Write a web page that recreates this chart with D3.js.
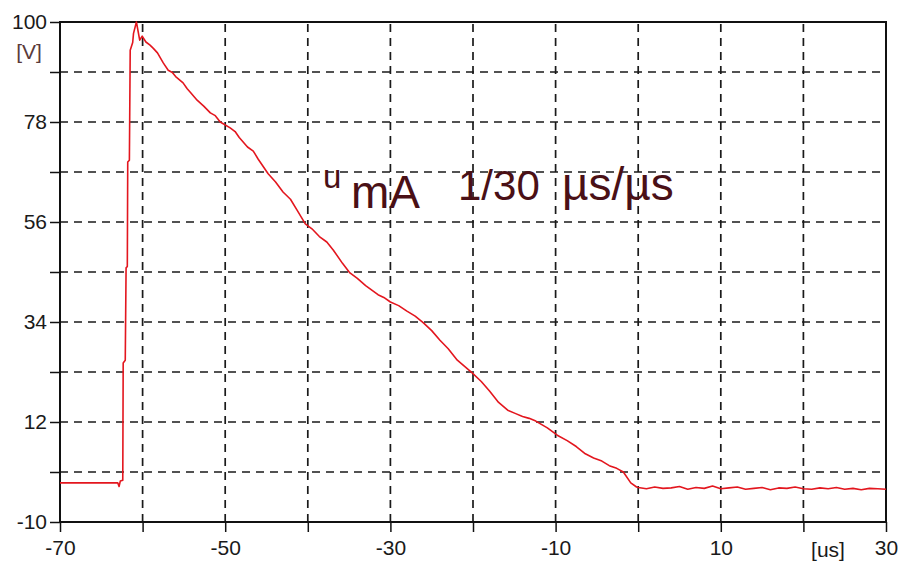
<!DOCTYPE html>
<html>
<head>
<meta charset="utf-8">
<script src="https://cdn.jsdelivr.net/npm/d3@7"></script>
<style>
  body { margin: 0; background: #fff; }
  svg { display: block; }
  text { font-family: "Liberation Sans", Arial, sans-serif; }
</style>
</head>
<body>
<svg id="svg0" width="902" height="572"></svg>
<script>

// tick values and labels
var xTicks = [-70, -60, -50, -40, -30, -20, -10, 0, 10, 20, 30];
var xLabels = [-70, -50, -30, -10, 10, 30];
var yTicks = [-10, 1, 12, 23, 34, 45, 56, 67, 78, 89, 100];
var yLabels = [-10, 12, 34, 56, 78, 100];

// recorded trace: time [us] and voltage [V]
var traceTime = [
  -70, -63.0, -62.85, -62.7, -62.4, -62.35, -62.1, -62.0, -61.85, -61.8,
  -61.6, -61.5, -61.2, -61.1, -60.75, -60.35, -60.05, -59.6, -59.1, -58.7,
  -58.2, -57.5, -56.9, -56.4, -56.0, -55.1, -54.6, -54.2, -53.4, -52.6,
  -51.8, -51.2, -50.6, -49.4, -48.8, -48.3, -47.3, -46.6, -46.0, -44.8,
  -43.9, -43.0, -42.1, -41.3, -40.3, -39.5, -38.6, -37.7, -36.9, -35.8,
  -34.9, -34.0, -33.0, -31.5, -30.8, -30.0, -29.0, -28.0, -27.0, -26.0,
  -25.0, -24.0, -23.0, -21.9, -20.1, -19.0, -18.0, -16.9, -15.8, -14.9,
  -14.0, -13.2, -12.4, -11.0, -9.8, -8.6, -7.5, -6.4, -5.4, -4.4,
  -3.5, -2.6, -1.8, -0.9, -0.2,
  0, 1, 2, 3, 4, 5, 6, 7, 8, 9, 10, 11, 12, 13, 14, 15,
  16, 17, 18, 19, 20, 21, 22, 23, 24, 25, 26, 27, 28, 29, 30
];
var traceVolt = [
  -1.4, -1.4, -2.2, -1.0, -0.8, 25.0, 25.6, 45.9, 46.2, 69.2,
  69.6, 93.8, 95.5, 97.5, 100, 96.0, 96.9, 95.6, 94.9, 94.2,
  93.2, 91.0, 89.4, 88.9, 88.0, 86.6, 85.3, 84.5, 82.8, 81.5,
  80.0, 79.4, 78.0, 76.7, 75.9, 74.6, 72.5, 71.6, 69.8, 66.6,
  64.8, 62.6, 61.0, 58.6, 55.6, 54.5, 52.8, 51.6, 49.8, 46.9,
  44.8, 43.6, 42.0, 40.0, 39.4, 38.4, 37.6, 36.4, 35.3, 33.8,
  32.1, 30.0, 28.1, 25.6, 22.8, 20.9, 18.8, 16.3, 14.6, 13.9,
  13.2, 12.8, 12.2, 10.7, 9.1, 7.9, 6.6, 5.0, 4.1, 3.4,
  2.4, 1.8, 1.0, -1.4, -2.3,
  -2.4, -2.7, -2.3, -2.6, -2.5, -2.2, -2.8, -2.4, -2.6, -2.1, -2.7, -2.5, -2.3, -2.8, -2.6, -2.4,
  -2.9, -2.5, -2.6, -2.3, -2.7, -2.8, -2.5, -2.7, -2.4, -2.8, -2.6, -2.9, -2.6, -2.7, -2.8
];

var svg = d3.select('#svg0');

var x = d3.scaleLinear().domain([-70, 30]).range([60, 886]);
var y = d3.scaleLinear().domain([-10, 100]).range([522, 22]);

svg.append('rect')
    .attr('width', 902)
    .attr('height', 572)
    .attr('fill', '#fff');

// dashed grid
var grid = svg.append('g')
    .attr('stroke', '#1a1a1a')
    .attr('stroke-width', 1.7)
    .attr('stroke-dasharray', '8,6');

grid.selectAll('.vg')
    .data(xTicks.slice(1, -1))
    .enter()
    .append('line')
    .attr('x1', function(d){ return x(d); })
    .attr('x2', function(d){ return x(d); })
    .attr('y1', y(-10))
    .attr('y2', y(100));

grid.selectAll('.hg')
    .data(yTicks.slice(1, -1))
    .enter()
    .append('line')
    .attr('x1', x(-70))
    .attr('x2', x(30))
    .attr('y1', function(d){ return y(d); })
    .attr('y2', function(d){ return y(d); });

// axes
var xAxis = d3.axisBottom(x)
    .tickValues(xTicks)
    .tickSize(10)
    .tickPadding(4)
    .tickFormat(function(d){ return xLabels.indexOf(d) >= 0 ? d : ''; });

var yAxis = d3.axisLeft(y)
    .tickValues(yTicks)
    .tickSize(10)
    .tickPadding(3)
    .tickFormat(function(d){ return yLabels.indexOf(d) >= 0 ? d : ''; });

var gx = svg.append('g')
    .attr('transform', 'translate(0,' + y(-10) + ')')
    .call(xAxis);

var gy = svg.append('g')
    .attr('transform', 'translate(' + x(-70) + ',0)')
    .call(yAxis);

[gx, gy].forEach(function(g){
    g.select('.domain').remove();
    g.selectAll('line').attr('stroke', '#111').attr('stroke-width', 1.5);
    g.selectAll('text')
        .attr('fill', '#1a1a1a')
        .style('font-size', '21px')
        .style('font-family', '"Liberation Sans", Arial, sans-serif');
});
gx.selectAll('text').attr('dy', '0.9em');

// frame
svg.append('rect')
    .attr('x', x(-70))
    .attr('y', y(100))
    .attr('width', x(30) - x(-70))
    .attr('height', y(-10) - y(100))
    .attr('fill', 'none')
    .attr('stroke', '#111')
    .attr('stroke-width', 2);

// unit labels
svg.append('text')
    .attr('x', 29)
    .attr('y', 59)
    .attr('text-anchor', 'middle')
    .attr('fill', '#5a3b3b')
    .style('font-size', '21px')
    .text('[V]');

svg.append('text')
    .attr('x', 828)
    .attr('y', 557)
    .attr('text-anchor', 'middle')
    .attr('fill', '#1a1a1a')
    .style('font-size', '21px')
    .text('[us]');

// trace
var line = d3.line()
    .x(function(d){ return x(traceTime[d]); })
    .y(function(d){ return y(traceVolt[d]); });

svg.append('path')
    .datum(d3.range(traceTime.length))
    .attr('d', line)
    .attr('fill', 'none')
    .attr('stroke', '#e3161e')
    .attr('stroke-width', 1.6)
    .attr('stroke-linejoin', 'round');

// annotation
var note = svg.append('g').attr('fill', '#4a1016');
note.append('text')
    .attr('x', 323)
    .attr('y', 188)
    .style('font-size', '33px')
    .text('u');
note.append('text')
    .attr('x', 351)
    .attr('y', 208)
    .style('font-size', '46px')
    .text('mA');
note.append('text')
    .attr('x', 458)
    .attr('y', 200)
    .style('font-size', '42px')
    .text('1/30');
note.append('text')
    .attr('x', 562)
    .attr('y', 200)
    .style('font-size', '46px')
    .text('\u00b5s/\u00b5s');

</script>
</body>
</html>
